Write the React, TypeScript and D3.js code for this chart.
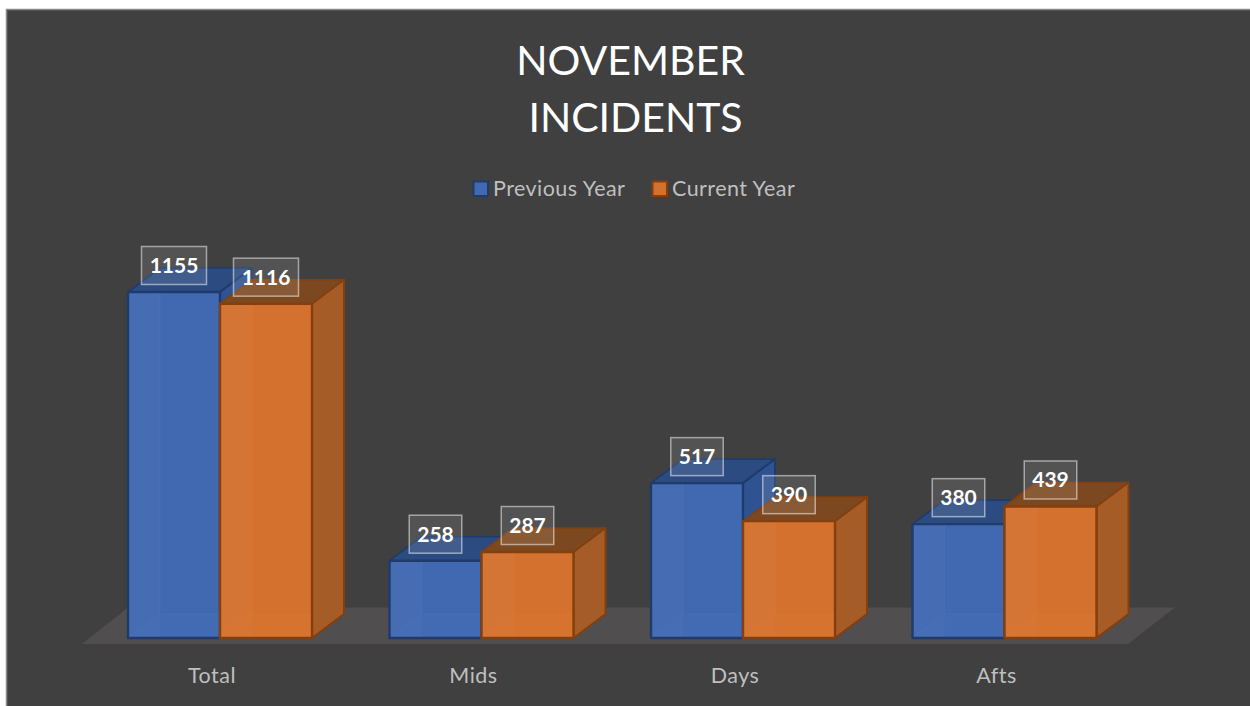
import React from "react";
import * as d3 from "d3";

const categories = ["Total", "Mids", "Days", "Afts"];
const previousYear = [1155, 258, 517, 380];
const currentYear = [1116, 287, 390, 439];
const seriesNames = ["Previous Year", "Current Year"];
const titleLines = ["NOVEMBER", "INCIDENTS"];

const W = 1250, H = 706;
const FONT = "Lato, Carlito, 'Open Sans', sans-serif";
const DX = 32, DY = -24;
const x = d3.scaleBand<string>().domain(categories).range([128, 1174]).paddingInner(0).paddingOuter(0);
const y = d3.scaleLinear().domain([0, 1155]).range([638, 292]);
const BW = 92;

const palettes = [
  { front: "#4169B1", top: "#2C4B81", side: "#2F5390", stroke: "#1F3B6C", inner: "#4A73BC" },
  { front: "#D4712F", top: "#7C4820", side: "#A65C27", stroke: "#843F0E", inner: "#E07A32" },
];

const pts = (p: [number, number][]) => p.map((q) => q.join(",")).join(" ");

function Bar({ x0, v, s }: { x0: number; v: number; s: number }) {
  const p = palettes[s];
  const t = y(v), b = y(0), r = x0 + BW;
  return (
    <g strokeLinejoin="round">
      <polygon points={pts([[x0, t], [x0 + DX, t + DY], [r + DX, t + DY], [r, t]])} fill={p.top} stroke={p.stroke} strokeWidth={1.6} />
      <polygon points={pts([[r, t], [r + DX, t + DY], [r + DX, b + DY], [r, b]])} fill={p.side} stroke={p.stroke} strokeWidth={2} />
      <rect x={x0} y={t} width={BW} height={b - t} fill={p.front} stroke={p.stroke} strokeWidth={2.4} />
      <rect x={x0 + 1.2} y={t + 1.2} width={DX - 1.2} height={b - t - 2.4} fill="#ffffff" opacity={0.03} />
      <polygon points={pts([[x0 + 1.2, b - 1.2], [x0 + DX, b + DY], [r - 1.2, b + DY], [r - 1.2, b - 1.2]])} fill={p.inner} opacity={0.22} />
      <path
        d={`M${x0 + DX},${t + 1.2}V${b + DY}H${r - 1.2}M${x0 + DX},${b + DY}L${x0 + 2},${b - 2}`}
        fill="none"
        stroke={p.inner}
        strokeWidth={1.2}
        opacity={0.5}
      />
    </g>
  );
}

function Label({ cx, v }: { cx: number; v: number }) {
  const text = String(v);
  const w = text.length === 4 ? 65 : 52.5;
  const cy = y(v) - 26.5;
  return (
    <g>
      <rect x={cx - w / 2} y={cy - 19} width={w} height={38} fill="#ffffff" fillOpacity={0.1} stroke="#ffffff" strokeOpacity={0.5} strokeWidth={1.5} />
      <text x={cx} y={cy + 7.5} textAnchor="middle" fontFamily={FONT} fontWeight={700} fontSize={21} fill="#ffffff">{text}</text>
    </g>
  );
}

export default function App() {
  const series = [previousYear, currentYear];
  const floor = pts([[82, 644], [128, 607.5], [1175, 607.5], [1128, 644]]);
  return (
    <svg width={W} height={H} viewBox={`0 0 ${W} ${H}`} style={{ position: "fixed", left: 0, top: 0, display: "block" }}>
      <rect width={W} height={H} fill="#ffffff" />
      <rect x={6} y={9} width={W - 6} height={H - 9} fill="#404040" />
      <path d={`M6.5,${H}V9.5H${W}`} fill="none" stroke="#8a8a8a" strokeWidth={1.5} />
      {titleLines.map((l, i) => (
        <text key={l} x={i === 0 ? 630.5 : 635.5} y={75 + i * 57} textAnchor="middle" fontFamily={FONT} fontSize={41} fill="#ffffff">{l}</text>
      ))}
      {seriesNames.map((n, i) => {
        const lx = [473, 652][i];
        return (
          <g key={n}>
            <rect x={lx + 0.5} y={181.5} width={14.5} height={14.5} fill={palettes[i].front} stroke={palettes[i].stroke} strokeWidth={2} />
            <text x={lx + 20} y={196} fontFamily={FONT} fontSize={21.5} letterSpacing={0.45} fill="#bfbfbf">{n}</text>
          </g>
        );
      })}
      <polygon points={floor} fill="#504E4E" />
      {categories.map((c, i) => {
        const x0 = x(c)!;
        return (
          <g key={c}>
            {series.map((vals, s) => (
              <Bar key={s} x0={x0 + s * BW} v={vals[i]} s={s} />
            ))}
          </g>
        );
      })}
      {categories.map((c, i) => {
        const x0 = x(c)!;
        return (
          <g key={c}>
            {series.map((vals, s) => (
              <Label key={s} cx={x0 + s * BW + BW / 2} v={vals[i]} />
            ))}
            <text x={x0 + 84} y={683} textAnchor="middle" fontFamily={FONT} fontSize={21.5} letterSpacing={0.5} fill="#bfbfbf">{c}</text>
          </g>
        );
      })}
    </svg>
  );
}
